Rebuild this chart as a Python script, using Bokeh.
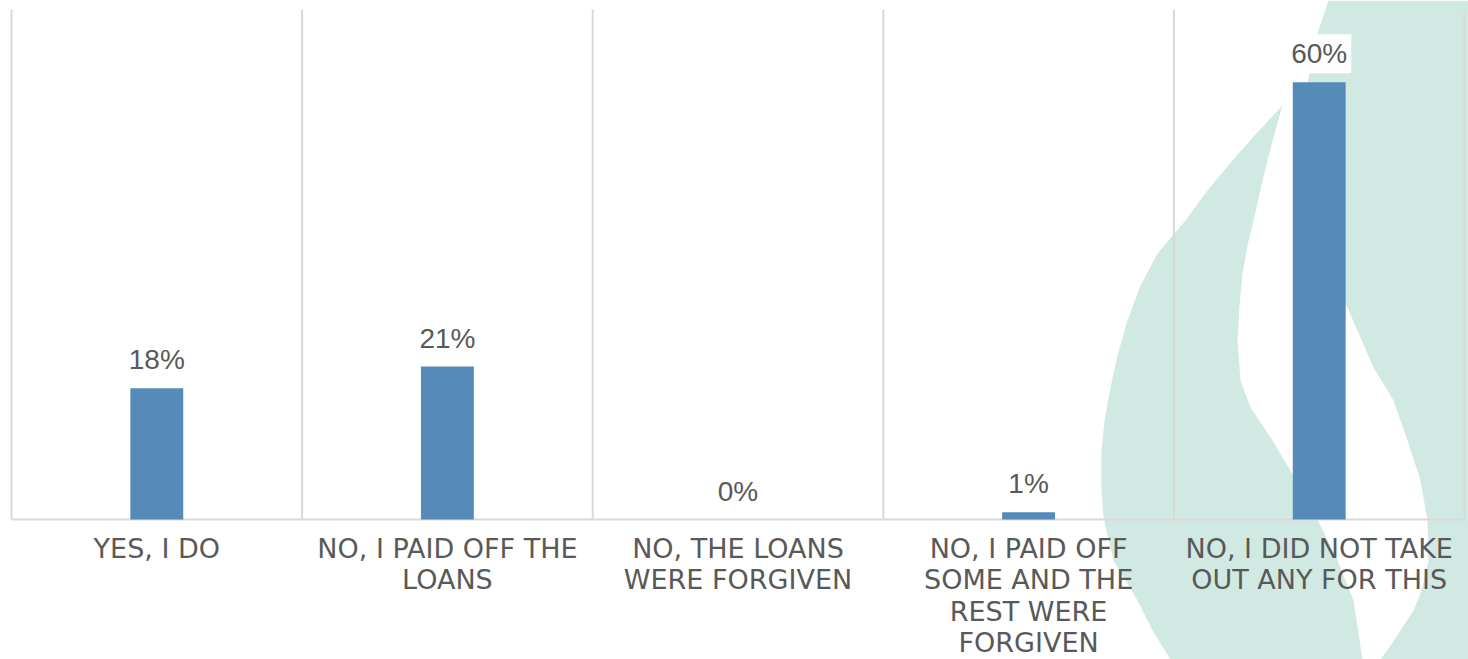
from bokeh.plotting import figure
from bokeh.models import ColumnDataSource, Range1d, PolyAnnotation
from bokeh.embed import file_html
from bokeh.resources import INLINE
from bokeh.core.properties import value

categories = [
    "Yes, I do",
    "No, I paid off the loans",
    "No, the loans were forgiven",
    "No, I paid off some and the rest were forgiven",
    "No, I did not take out any for this",
]
tick_labels = [
    "YES, I DO",
    "NO, I PAID OFF THE\nLOANS",
    "NO, THE LOANS\nWERE FORGIVEN",
    "NO, I PAID OFF\nSOME AND THE\nREST WERE\nFORGIVEN",
    "NO, I DID NOT TAKE\nOUT ANY FOR THIS",
]
values = [18, 21, 0, 1, 60]
value_labels = ["18%", "21%", "0%", "1%", "60%"]
y_max = 70

W, H = 1468, 659
PAD_L, PAD_R, PAD_T, PAD_B = 11, 4, 9, 140
TEXT = "#595959"
BAR = "#558ab9"
GRID = "#d9d9d9"
WATERMARK = "#d1e9e3"

# decorative flame watermark outline (canvas pixels, y measured from top)
flame_left = [(1282, 105), (1254, 135), (1232, 160), (1207, 190), (1185, 220), (1157, 253),
              (1140, 285), (1127, 320), (1117, 355), (1110, 387), (1104, 420), (1101, 450),
              (1101, 490), (1103, 517), (1113, 560), (1137, 600), (1152, 630), (1170, 659),
              (1362, 659), (1353, 600), (1337, 560), (1317, 519), (1300, 490), (1290, 470),
              (1272, 440), (1250, 407), (1240, 380), (1237, 340), (1239, 305), (1242, 273),
              (1247, 245), (1253, 220), (1262, 180), (1272, 140)]
flame_right = [(1328, 0), (1317, 33), (1307, 82), (1305, 130), (1310, 180), (1320, 230),
               (1335, 280), (1346, 305), (1360, 337), (1373, 367), (1393, 400), (1407, 440),
               (1420, 480), (1427, 520), (1428, 560), (1421, 590), (1413, 610), (1400, 630),
               (1390, 645), (1380, 659), (W, H), (W, 0)]

n = len(categories)
xs = [i + 0.5 for i in range(n)]
edges = list(range(n + 1))
src = ColumnDataSource(dict(x=xs, top=values, lab=value_labels, tick=tick_labels,
                            base=[0] * n, cat=categories))

unit_x = (W - PAD_L - PAD_R) / n
unit_y = (H - PAD_T - PAD_B) / y_max
x_range = Range1d(-PAD_L / unit_x, n + PAD_R / unit_x)
y_range = Range1d(-PAD_B / unit_y, y_max + PAD_T / unit_y)

p = figure(width=W, height=H, x_range=x_range, y_range=y_range,
           output_backend="svg", toolbar_location=None,
           x_axis_location=None, y_axis_location=None,
           min_border=0, min_border_left=0, min_border_right=0,
           min_border_top=0, min_border_bottom=0)
p.outline_line_color = None
p.background_fill_color = "white"
p.border_fill_color = "white"
p.grid.visible = False

for shape in (flame_left, flame_right):
    p.add_layout(PolyAnnotation(xs=[pt[0] for pt in shape], ys=[pt[1] for pt in shape],
                                xs_units="canvas", ys_units="canvas", level="image",
                                fill_color=WATERMARK, fill_alpha=1.0, line_color=None))

# category separators (vertical grid) and baseline
p.segment(x0=edges, y0=[0] * len(edges), x1=edges, y1=[y_max] * len(edges),
          line_color=GRID, line_width=2)
p.segment(x0=[0], y0=[0], x1=[n], y1=[0], line_color=GRID, line_width=2)

p.vbar(x="x", top="top", width=0.182, source=src, fill_color=BAR, line_color=None)

p.text(x="x", y="top", text="lab", source=src, text_align="center", text_baseline="bottom",
       y_offset=-9, text_font=value("Liberation Sans"), text_font_size="28px", text_color=TEXT,
       background_fill_color="white", padding=4)

p.text(x="x", y="base", text="tick", source=src, text_align="center", text_baseline="top",
       y_offset=13, text_font=value("DejaVu Sans"), text_font_size="27px",
       text_line_height=1.02, text_color=TEXT)

open("out.html", "w").write(file_html(p, INLINE))
